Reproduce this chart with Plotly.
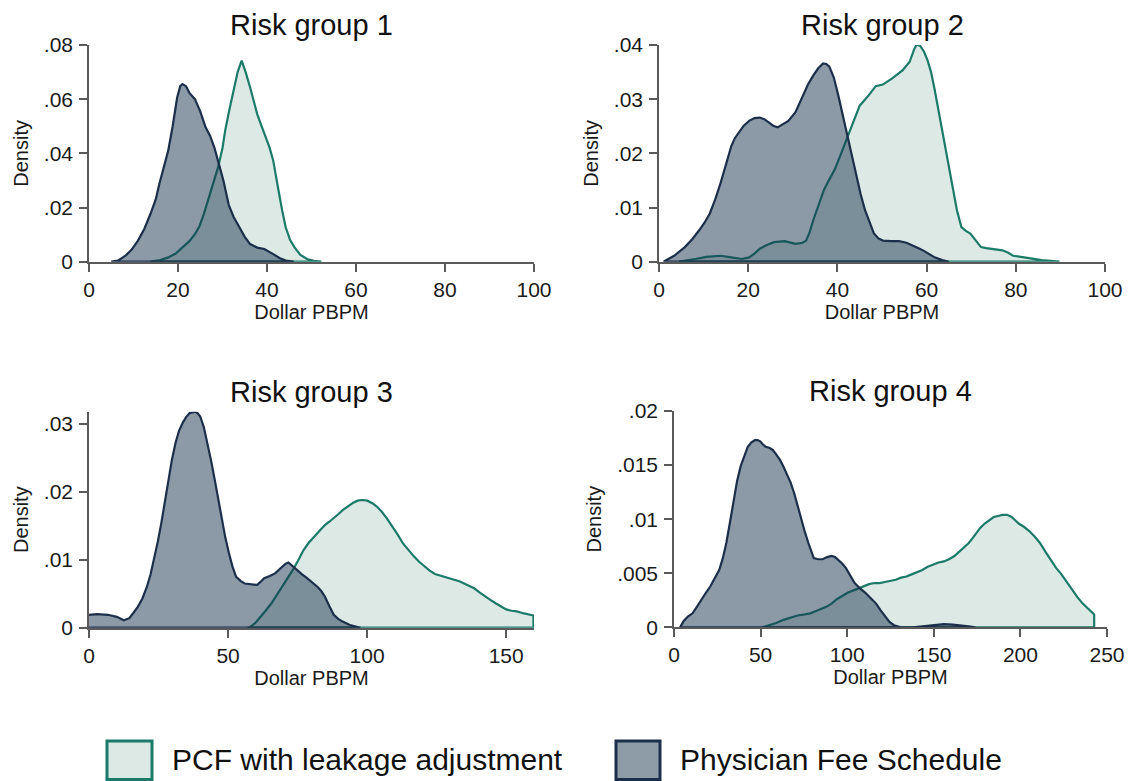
import plotly.graph_objects as go

# ---- density curves (Dollar PBPM, density) ----
# Risk group 1
rg1_pfs_x = [5, 6.5, 8.2, 9.6, 11.0, 12.4, 13.8, 15.0, 15.8, 16.8, 17.8, 18.8, 19.8, 20.5, 21.0, 21.8,
             22.6, 23.8, 25.0, 26.2, 27.2, 28.2, 29.2, 30.2, 31.4, 32.5, 33.8, 35.0, 36.2, 37.8, 39.4,
             40.5, 41.4, 42.8, 44.2, 46.0]
rg1_pfs_y = [0, 0.0004, 0.0022, 0.0045, 0.0078, 0.012, 0.0176, 0.023, 0.0287, 0.035, 0.041, 0.050,
             0.0605, 0.0648, 0.0656, 0.0648, 0.0622, 0.0600, 0.0555, 0.0496, 0.0465, 0.042, 0.036,
             0.030, 0.021, 0.0165, 0.0127, 0.0092, 0.0065, 0.0052, 0.0047, 0.0038, 0.0028, 0.0014,
             0.0004, 0]
rg1_pcf_x = [13.8, 16.0, 17.8, 19.5, 21.0, 22.5, 23.8, 24.8, 25.8, 26.8, 27.8, 29.0, 30.0, 30.6, 31.4,
             32.2, 33.4, 34.3, 35.2, 36.2, 37.0, 37.8, 38.8, 39.8, 40.6, 41.4, 42.0, 42.6, 43.4, 44.2,
             45.2, 46.2, 47.5, 49.0, 50.5, 52.2]
rg1_pcf_y = [0, 0.0006, 0.0016, 0.003, 0.0053, 0.0075, 0.0102, 0.013, 0.0176, 0.023, 0.0287, 0.0348,
             0.042, 0.0484, 0.055, 0.0607, 0.070, 0.0742, 0.0700, 0.0644, 0.0590, 0.0545, 0.050,
             0.0459, 0.042, 0.0373, 0.031, 0.0262, 0.019, 0.0127, 0.008, 0.0053, 0.0025, 0.001,
             0.0003, 0]

# Risk group 2
rg2_pfs_x = [1.0, 3.4, 5.8, 7.5, 9.0, 10.2, 11.4, 12.6, 13.8, 15.0, 16.2, 17.0, 17.8, 19.0, 20.2, 21.4,
             22.6, 23.6, 24.6, 25.6, 26.6, 27.8, 29.0, 30.6, 32.2, 33.4, 34.6, 35.7, 36.8, 37.5, 38.2,
             39.2, 40.2, 41.2, 42.2, 43.2, 44.2, 45.2, 46.2, 47.2, 48.2, 49.2, 50.2, 52.0, 53.8, 55.5,
             57.0, 58.2, 59.4, 61.8, 63.5, 65.0]
rg2_pfs_y = [0, 0.0011, 0.0027, 0.0042, 0.0058, 0.0072, 0.0089, 0.0115, 0.0145, 0.018, 0.0213, 0.0228,
             0.0238, 0.0251, 0.026, 0.0265, 0.0266, 0.0263, 0.0257, 0.0251, 0.0248, 0.0254, 0.026,
             0.0276, 0.0307, 0.0327, 0.0344, 0.0357, 0.0366, 0.0365, 0.036, 0.034, 0.0307, 0.027,
             0.0232, 0.0195, 0.0157, 0.0125, 0.0095, 0.0072, 0.0052, 0.0043, 0.0039, 0.0038, 0.0038,
             0.0035, 0.003, 0.0025, 0.002, 0.0008, 0.0003, 0]
rg2_pcf_x = [4.5, 6.5, 8.2, 10.6, 13.8, 16.2, 18.6, 20.2, 21.4, 22.6, 24.2, 25.8, 28.2, 30.6, 32.2, 33.0,
             33.8, 34.6, 35.8, 37.0, 38.2, 39.4, 40.6, 41.8, 43.4, 45.0, 47.0, 48.6, 50.2, 52.2, 54.6,
             56.2, 57.2, 57.8, 58.6, 59.4, 60.2, 61.0, 61.8, 62.6, 63.4, 64.2, 65.0, 65.8, 66.8, 67.8,
             68.8, 69.8, 71.0, 72.2, 73.4, 74.6, 77.0, 78.2, 79.4, 82.6, 85.8, 89.8]
rg2_pcf_y = [0, 0.0002, 0.0005, 0.0009, 0.0011, 0.0008, 0.0005, 0.0008, 0.0015, 0.0024, 0.0031, 0.0036,
             0.0038, 0.0033, 0.0035, 0.0039, 0.0055, 0.0077, 0.0105, 0.0133, 0.0152, 0.017, 0.0195,
             0.022, 0.0257, 0.0288, 0.0307, 0.0324, 0.0327, 0.0338, 0.0353, 0.0369, 0.0392, 0.0401,
             0.0398, 0.0388, 0.0372, 0.035, 0.0318, 0.0282, 0.0245, 0.0207, 0.017, 0.0133, 0.0095,
             0.0064, 0.0057, 0.0052, 0.004, 0.0027, 0.0025, 0.0024, 0.0021, 0.0017, 0.0011, 0.0007,
             0.0003, 0]

# Risk group 3
rg3_pfs_x = [0, 2.9, 6.8, 10.0, 12.5, 14.5, 16.0, 17.6, 19.2, 20.8, 22.1, 23.4, 24.7, 26.0, 27.2, 28.5,
             29.8, 31.1, 32.3, 33.6, 34.9, 36.2, 38.1, 39.0, 40.0, 41.3, 42.6, 43.9, 45.2, 46.5, 47.7,
             49.0, 50.3, 51.6, 52.9, 54.5, 56.0, 58.2, 60.5, 61.8, 63.0, 65.0, 66.9, 68.2, 69.5, 70.6,
             71.7, 73.1, 74.6, 76.5, 78.4, 80.3, 82.2, 83.5, 84.8, 86.4, 88.0, 89.6, 91.2, 93.8, 96.3,
             97.6]
rg3_pfs_y = [0.0019, 0.002, 0.0019, 0.0016, 0.0011, 0.0014, 0.0022, 0.0031, 0.0043, 0.006, 0.0078, 0.010,
             0.0126, 0.0154, 0.0185, 0.0218, 0.0247, 0.0272, 0.0289, 0.0301, 0.0310, 0.0316, 0.0318,
             0.0316, 0.0311, 0.0295, 0.0272, 0.0246, 0.0218, 0.0188, 0.0159, 0.0133, 0.011, 0.009,
             0.0075, 0.0069, 0.0065, 0.0064, 0.0063, 0.0068, 0.0073, 0.0076, 0.008, 0.0085, 0.009,
             0.0094, 0.0096, 0.0091, 0.0085, 0.0079, 0.0073, 0.0067, 0.006, 0.0054, 0.0046, 0.0032,
             0.0019, 0.0013, 0.0009, 0.0004, 0.0001, 0]
rg3_pcf_x = [57.0, 57.9, 59.8, 61.8, 63.7, 65.6, 67.5, 69.4, 71.3, 73.3, 75.2, 77.1, 79.0, 80.9, 82.9,
             84.8, 86.4, 88.0, 89.6, 91.2, 93.1, 95.0, 96.6, 98.2, 100.1, 102.0, 103.6, 105.2, 107.1,
             109.1, 111.0, 112.9, 114.8, 116.8, 118.7, 120.6, 122.5, 124.4, 127.0, 129.5, 133.4, 136.0,
             138.5, 140.4, 142.3, 144.3, 146.2, 148.1, 150.0, 151.9, 153.8, 156.4, 158.9, 159.8]
rg3_pcf_y = [0, 0.0001, 0.0007, 0.0016, 0.0026, 0.0036, 0.0048, 0.006, 0.0072, 0.0085, 0.0099, 0.0114,
             0.0125, 0.0134, 0.0143, 0.0151, 0.0156, 0.0161, 0.0167, 0.0173, 0.0179, 0.0184, 0.0187,
             0.0188, 0.0187, 0.0183, 0.0178, 0.0171, 0.0161, 0.0149, 0.0137, 0.0124, 0.0114, 0.0105,
             0.0097, 0.009, 0.0084, 0.0079, 0.0076, 0.0073, 0.0068, 0.0063, 0.0058, 0.0052, 0.0046,
             0.0041, 0.0036, 0.0031, 0.0027, 0.0025, 0.0024, 0.0021, 0.0019, 0.0018]

# Risk group 4
rg4_pfs_x = [3.5, 5.6, 8.0, 10.7, 13.2, 15.8, 18.4, 21.0, 23.5, 26.1, 28.2, 30.2, 32.3, 34.4, 36.4, 38.5,
             40.6, 42.6, 44.7, 46.7, 48.3, 49.8, 51.4, 52.9, 55.0, 57.0, 59.0, 61.1, 63.1, 65.2, 67.3,
             69.4, 71.4, 73.5, 75.6, 77.6, 79.2, 80.7, 83.2, 85.8, 88.4, 90.9, 93.0, 95.1, 97.1, 99.2,
             101.8, 104.3, 107.4, 110.5, 113.6, 116.7, 119.2, 121.8, 124.4, 127.0, 131.0, 138.0, 145.5,
             150.5, 155.8, 161.0, 166.0, 170.0, 174.0]
rg4_pfs_y = [0, 0.0006, 0.001, 0.0013, 0.0019, 0.0026, 0.0032, 0.0038, 0.0045, 0.0053, 0.0064, 0.0078,
             0.0097, 0.0118, 0.0135, 0.0149, 0.0159, 0.0167, 0.0171, 0.0173, 0.0173, 0.0172, 0.0169,
             0.0167, 0.0166, 0.0164, 0.016, 0.0155, 0.0149, 0.0142, 0.0134, 0.0124, 0.0112, 0.0099,
             0.0088, 0.0078, 0.007, 0.0064, 0.0063, 0.0063, 0.0065, 0.0066, 0.0065, 0.0062, 0.0059,
             0.0055, 0.0048, 0.0041, 0.0036, 0.0032, 0.0027, 0.0022, 0.0016, 0.001, 0.0005, 0.0002, 0,
             0, 0.0001, 0.0002, 0.0003, 0.00025, 0.0002, 0.0001, 0]
rg4_pcf_x = [50.8, 55.0, 59.0, 63.2, 67.3, 71.4, 75.5, 78.6, 81.7, 84.8, 87.9, 91.0, 94.0, 97.1, 100.2,
             103.3, 106.4, 109.5, 112.6, 115.7, 118.7, 121.8, 124.9, 128.0, 131.1, 134.2, 137.2, 140.3,
             143.4, 146.5, 149.6, 152.7, 155.8, 158.8, 161.9, 164.0, 166.0, 168.1, 170.2, 172.2, 174.3,
             176.8, 179.4, 182.0, 184.6, 187.1, 189.7, 192.3, 194.9, 197.0, 199.0, 202.0, 205.1, 208.2,
             211.3, 214.4, 217.5, 220.6, 223.7, 226.7, 229.8, 232.9, 236.0, 239.3, 242.6]
rg4_pcf_y = [0, 0.0002, 0.0004, 0.0007, 0.0009, 0.0011, 0.0012, 0.0013, 0.0015, 0.0017, 0.0019, 0.0022,
             0.0026, 0.0029, 0.0032, 0.0034, 0.0036, 0.0038, 0.004, 0.0041, 0.0041, 0.0042, 0.0043,
             0.0044, 0.0046, 0.0047, 0.0049, 0.0051, 0.0053, 0.0056, 0.0058, 0.006, 0.0061, 0.0063,
             0.0066, 0.0069, 0.0072, 0.0075, 0.0078, 0.0082, 0.0087, 0.0092, 0.0096, 0.0099, 0.0102,
             0.0103, 0.0104, 0.0104, 0.0102, 0.0099, 0.0096, 0.0093, 0.0089, 0.0084, 0.0078, 0.007,
             0.0062, 0.0055, 0.0049, 0.0042, 0.0035, 0.0028, 0.0022, 0.0017, 0.0012]

# ---- axis settings per panel ----
panel_titles = ["Risk group 1", "Risk group 2", "Risk group 3", "Risk group 4"]
x_ranges = [[0, 100], [0, 100], [0, 160], [0, 250]]
y_ranges = [[0, 0.08], [0, 0.04], [0, 0.0318], [0, 0.02]]
x_tickvals = [[0, 20, 40, 60, 80, 100], [0, 20, 40, 60, 80, 100], [0, 50, 100, 150], [0, 50, 100, 150, 200, 250]]
y_tickvals = [[0, 0.02, 0.04, 0.06, 0.08], [0, 0.01, 0.02, 0.03, 0.04], [0, 0.01, 0.02, 0.03],
              [0, 0.005, 0.01, 0.015, 0.02]]
y_ticktext = [["0", ".02", ".04", ".06", ".08"], ["0", ".01", ".02", ".03", ".04"], ["0", ".01", ".02", ".03"],
              ["0", ".005", ".01", ".015", ".02"]]
series_names = ["PCF with leakage adjustment", "Physician Fee Schedule"]

W, H = 1128, 781
FONT = "Liberation Sans, Arial, sans-serif"
PCF_LINE, PCF_FILL = "#1b7a68", "#dce9e5"
PFS_LINE, PFS_FILL = "#1b2f4b", "rgba(20,49,76,0.49)"
AXIS_COL = "#5a5a5a"

# plot-area boxes in pixels: (left, right, top, bottom)
boxes = [(89, 534, 45, 261.7), (659, 1105, 45, 261.7), (89, 534, 411.7, 627.7), (674, 1107, 411, 627.4)]

curves = [
    (rg1_pcf_x, rg1_pcf_y, rg1_pfs_x, rg1_pfs_y),
    (rg2_pcf_x, rg2_pcf_y, rg2_pfs_x, rg2_pfs_y),
    (rg3_pcf_x, rg3_pcf_y, rg3_pfs_x, rg3_pfs_y),
    (rg4_pcf_x, rg4_pcf_y, rg4_pfs_x, rg4_pfs_y),
]


def closed(xs, ys):
    """Close a density outline along the zero baseline."""
    return list(xs) + [xs[-1], xs[0]], list(ys) + [0, 0]


fig = go.Figure()
layout = dict(
    width=W, height=H, margin=dict(l=0, r=0, t=0, b=0, autoexpand=False),
    paper_bgcolor="white", plot_bgcolor="white", showlegend=False,
    font=dict(family=FONT, color="#111111"),
    annotations=[], shapes=[],
)

for i, (pcf_x, pcf_y, pfs_x, pfs_y) in enumerate(curves):
    k = "" if i == 0 else str(i + 1)
    xa, ya = "x" + k, "y" + k
    cx, cy = closed(pcf_x, pcf_y)
    fig.add_trace(go.Scatter(x=cx, y=cy, xaxis=xa, yaxis=ya, mode="lines", fill="toself",
                             fillcolor=PCF_FILL, line=dict(color=PCF_LINE, width=2.2),
                             name=series_names[0], hoverinfo="skip"))
    cx, cy = closed(pfs_x, pfs_y)
    fig.add_trace(go.Scatter(x=cx, y=cy, xaxis=xa, yaxis=ya, mode="lines", fill="toself",
                             fillcolor=PFS_FILL, line=dict(color=PFS_LINE, width=2.2),
                             name=series_names[1], hoverinfo="skip"))

    left, right, top, bottom = boxes[i]
    xdom = [left / W, right / W]
    ydom = [1 - bottom / H, 1 - top / H]
    common = dict(showgrid=False, zeroline=False, showline=True, linecolor=AXIS_COL, linewidth=1.6,
                  ticks="outside", ticklen=8, tickwidth=1.6, tickcolor=AXIS_COL, automargin=False,
                  tickfont=dict(size=21, family=FONT, color="#1a1a1a"), fixedrange=True)
    layout["xaxis" + k] = dict(domain=xdom, range=x_ranges[i], anchor=ya, tickvals=x_tickvals[i],
                               ticklabelstandoff=0,
                               title=dict(text="Dollar PBPM", font=dict(size=20, family=FONT, color="#1a1a1a"),
                                          standoff=0), **common)
    layout["yaxis" + k] = dict(domain=ydom, range=y_ranges[i], anchor=xa, tickvals=y_tickvals[i],
                               ticktext=y_ticktext[i], ticklabelstandoff=2,
                               title=dict(text="Density", font=dict(size=20, family=FONT, color="#1a1a1a"),
                                          standoff=10), **common)
    layout["annotations"].append(dict(
        text=panel_titles[i], xref="paper", yref="paper", x=(xdom[0] + xdom[1]) / 2,
        y=1 - (top - 20) / H, xanchor="center", yanchor="middle", showarrow=False,
        font=dict(size=29, family=FONT, color="#111111")))

# legend keys: boxes with outline, followed by labels
legend_items = [(107, 152, 170, PCF_FILL, PCF_LINE), (616, 660, 678, "#8e9ca8", PFS_LINE)]
for (bx0, bx1, tx, fillc, linec), label in zip(legend_items, series_names):
    layout["shapes"].append(dict(type="rect", xref="paper", yref="paper",
                                 x0=bx0 / W, x1=bx1 / W, y0=1 - 779.5 / H, y1=1 - 741 / H,
                                 fillcolor=fillc, line=dict(color=linec, width=3)))
    layout["annotations"].append(dict(text=label, xref="paper", yref="paper", x=tx / W, y=1 - 759.5 / H,
                                      xanchor="left", yanchor="middle", showarrow=False,
                                      font=dict(size=30, family=FONT, color="#111111")))

fig.update_layout(**layout)
fig.write_html("out.html")
